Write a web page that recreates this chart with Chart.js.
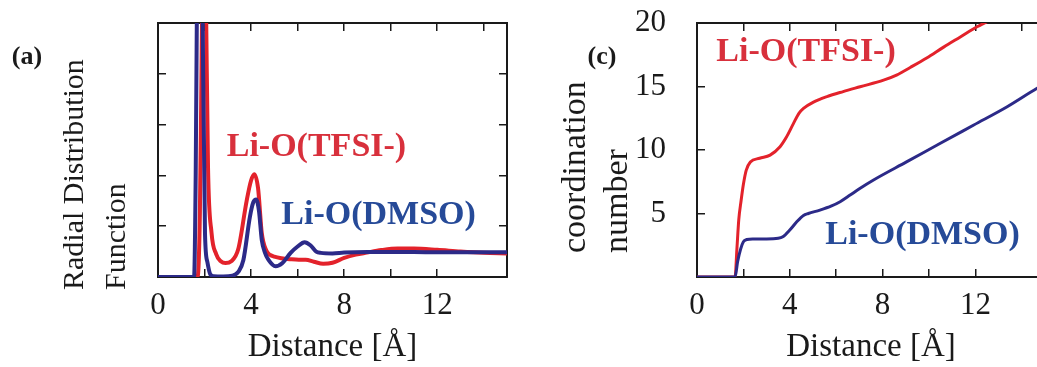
<!DOCTYPE html>
<html>
<head>
<meta charset="utf-8">
<script src="https://cdn.jsdelivr.net/npm/chart.js@4.4.0/dist/chart.umd.min.js"></script>
<style>
html, body { margin: 0; padding: 0; background: #fff; overflow: hidden; width: 1037px; height: 367px; }
#chartA { position: absolute; left: 0; top: 0; }
#chartC { position: absolute; left: 520px; top: 0; }
</style>
</head>
<body>
<canvas id="chartA" width="520" height="367"></canvas>
<canvas id="chartC" width="540" height="367"></canvas>
<script>
// ---- data ----
// (a) radial distribution function g(r)
var rdfDistTfsi = [0, 1.70, 1.80, 1.88, 1.97, 2.06, 2.15, 2.30, 2.50, 2.70, 2.90, 3.15, 3.45, 3.81, 4.00, 4.14, 4.30, 4.46, 4.65, 4.82, 5.00, 5.30, 5.70, 6.05, 6.35, 6.70, 7.10, 7.50, 8.00, 8.50, 8.97, 9.60, 10.30, 11.00, 12.00, 13.00, 14.00, 15.00];
var rdfTfsi     = [0, 0, 2.5, 9, 16, 11, 4.3, 1.75, 0.9, 0.62, 0.55, 0.62, 1.1, 3.0, 3.8, 4.05, 3.5, 1.73, 1.05, 0.87, 0.8, 0.74, 0.7, 0.68, 0.68, 0.6, 0.52, 0.56, 0.75, 0.88, 0.96, 1.06, 1.12, 1.12, 1.07, 1.0, 0.95, 0.93];

var rdfDistDmso = [0, 1.55, 1.62, 1.70, 1.80, 1.90, 2.02, 2.12, 2.24, 2.40, 2.80, 3.20, 3.45, 3.67, 3.95, 4.10, 4.22, 4.34, 4.46, 4.60, 4.75, 5.05, 5.35, 5.70, 6.00, 6.30, 6.55, 6.80, 7.00, 7.50, 8.00, 9.00, 10.00, 11.00, 12.00, 13.00, 14.00, 15.00];
var rdfDmso     = [0, 0, 4, 14, 20, 12, 1.7, 0.6, 0.12, 0.03, 0.02, 0.05, 0.2, 0.67, 2.37, 2.95, 3.05, 2.6, 1.46, 0.95, 0.67, 0.42, 0.55, 0.95, 1.2, 1.37, 1.25, 1.0, 0.95, 0.93, 0.96, 0.98, 0.98, 0.98, 0.97, 0.97, 0.97, 0.97];

// (c) coordination number
var cnDistTfsi = [0, 1.64, 1.72, 1.80, 1.90, 2.00, 2.12, 2.30, 2.70, 3.15, 3.58, 3.85, 4.16, 4.40, 4.59, 5.00, 5.60, 6.30, 7.03, 8.04, 8.60, 9.19, 9.90, 10.63, 11.35, 12.07, 12.50, 13.00, 15.00];
var cnTfsi     = [0, 0, 2.2, 4.5, 6.0, 7.3, 8.4, 9.05, 9.35, 9.6, 10.26, 11.0, 12.1, 12.9, 13.28, 13.75, 14.2, 14.6, 14.98, 15.5, 15.9, 16.5, 17.25, 18.1, 18.9, 19.7, 20.1, 20.6, 23];

var cnDistDmso = [0, 1.64, 1.75, 1.88, 2.00, 2.15, 2.40, 3.00, 3.50, 3.70, 4.00, 4.30, 4.59, 4.80, 5.30, 5.80, 6.17, 6.60, 7.00, 7.61, 9.05, 10.49, 11.93, 13.37, 14.66, 15.00];
var cnDmso     = [0, 0, 1.2, 2.2, 2.78, 2.95, 3.0, 3.0, 3.05, 3.17, 3.7, 4.35, 4.85, 5.0, 5.27, 5.6, 5.93, 6.45, 6.95, 7.64, 9.08, 10.53, 11.97, 13.41, 14.86, 15.2];

var seriesNames = ['Li-O(TFSI-)', 'Li-O(DMSO)'];
var xLabelTicks = [0, 4, 8, 12];

var SERIF = "'Liberation Serif', 'Times New Roman', serif";
var INK = '#1a1a1a';
var RED = '#e3222b', BLUE = '#2c2a88';
var RED_TXT = '#d8303c', BLUE_TXT = '#264a98';

function pts(xs, ys) {
  return xs.map(function(x, i) { return { x: x, y: ys[i] }; });
}

// draws panel labels, axis titles and curve labels
function textPlugin(items) {
  return {
    id: 'figText',
    afterDraw: function(chart) {
      var ctx = chart.ctx;
      items.forEach(function(t) {
        var px = t.px, py = t.py;
        if (t.at) {
          px = chart.scales.x.getPixelForValue(t.at[0]);
          py = chart.scales.y.getPixelForValue(t.at[1]);
        }
        ctx.save();
        ctx.translate(px, py);
        if (t.rotate) ctx.rotate(t.rotate * Math.PI / 180);
        ctx.font = t.font;
        ctx.fillStyle = t.color || INK;
        ctx.textAlign = t.align || 'center';
        ctx.textBaseline = t.baseline || 'middle';
        ctx.fillText(t.text, 0, 0);
        ctx.restore();
      });
    }
  };
}

function tickGrid() {
  return { drawOnChartArea: false, drawTicks: true, tickLength: -8, color: INK, lineWidth: 1.5 };
}
function frame() { return { display: true, color: INK, width: 2 }; }

// fixed box size, and no extra room asked for label overhang
function fixSize(w, h) {
  return function(s) {
    if (w !== null) s.width = w;
    if (h !== null) s.height = h;
    s.paddingTop = 0; s.paddingBottom = 0; s.paddingLeft = 0; s.paddingRight = 0;
  };
}

function makeScales(yMax, yStep, yLabels) {
  return {
    x: {
      type: 'linear', position: 'bottom', min: 0, max: 15,
      afterFit: fixSize(null, 90),
      ticks: {
        stepSize: 2, autoSkip: false, maxRotation: 0, padding: 18,
        font: { family: SERIF, size: 31 }, color: INK,
        callback: function(v) { return xLabelTicks.indexOf(v) >= 0 ? String(v) : ''; }
      },
      grid: tickGrid(), border: frame(),
      title: { display: true, text: 'Distance [Å]', color: INK, font: { family: SERIF, size: 33 }, padding: { top: 0, bottom: 0 } }
    },
    x2: {
      type: 'linear', position: 'top', min: 0, max: 15,
      afterFit: fixSize(null, 10),
      ticks: { stepSize: 2, display: false },
      grid: tickGrid(), border: frame()
    },
    y: {
      type: 'linear', position: 'left', min: 0, max: yMax,
      afterFit: fixSize(70, null),
      ticks: {
        stepSize: yStep, display: yLabels, padding: 39, autoSkip: false,
        font: { family: SERIF, size: 31 }, color: INK,
        callback: function(v) { return v === 0 ? '' : String(v); }
      },
      grid: tickGrid(), border: frame()
    },
    y2: {
      type: 'linear', position: 'right', min: 0, max: yMax,
      afterFit: fixSize(10, null),
      ticks: { stepSize: yStep, display: false },
      grid: tickGrid(), border: frame()
    }
  };
}

function lineSet(label, data, color, width, order) {
  return {
    label: label, data: data, borderColor: color, backgroundColor: color,
    borderWidth: width, pointRadius: 0, cubicInterpolationMode: 'monotone', order: order
  };
}

var commonOpts = {
  responsive: false, animation: false, devicePixelRatio: 1,
  plugins: { legend: { display: false }, tooltip: { enabled: false } }
};

// (a)
new Chart(document.getElementById('chartA'), {
  type: 'line',
  data: {
    datasets: [
      lineSet(seriesNames[0], pts(rdfDistTfsi, rdfTfsi), RED, 4, 1),
      lineSet(seriesNames[1], pts(rdfDistDmso, rdfDmso), BLUE, 4, 0)
    ]
  },
  options: Object.assign({}, commonOpts, {
    layout: { padding: { left: 88, right: 3, top: 13, bottom: 0 } },
    scales: makeScales(10, 2, false)
  }),
  plugins: [textPlugin([
    { text: '(a)', px: 27, py: 57, font: 'bold 26px ' + SERIF },
    { text: 'Radial Distribution', px: 83, py: 290, rotate: -90, align: 'left', baseline: 'alphabetic', font: '30px ' + SERIF },
    { text: 'Function', px: 125, py: 290, rotate: -90, align: 'left', baseline: 'alphabetic', font: '30px ' + SERIF },
    { text: seriesNames[0], at: [6.81, 5.12], font: 'bold 34px ' + SERIF, color: RED_TXT },
    { text: seriesNames[1], at: [9.48, 2.44], font: 'bold 34px ' + SERIF, color: BLUE_TXT }
  ])]
});

// (c)
new Chart(document.getElementById('chartC'), {
  type: 'line',
  data: {
    datasets: [
      lineSet(seriesNames[0], pts(cnDistTfsi, cnTfsi), RED, 3, 1),
      lineSet(seriesNames[1], pts(cnDistDmso, cnDmso), BLUE, 3, 0)
    ]
  },
  options: Object.assign({}, commonOpts, {
    layout: { padding: { left: 107, right: 5, top: 13, bottom: 0 } },
    scales: makeScales(20, 5, true)
  }),
  plugins: [textPlugin([
    { text: '(c)', px: 82, py: 57, font: 'bold 26px ' + SERIF },
    { text: 'coordination', px: 65, py: 253, rotate: -90, align: 'left', baseline: 'alphabetic', font: '34px ' + SERIF },
    { text: 'number', px: 107, py: 253, rotate: -90, align: 'left', baseline: 'alphabetic', font: '34px ' + SERIF },
    { text: seriesNames[0], at: [4.70, 17.7], font: 'bold 34px ' + SERIF, color: RED_TXT },
    { text: seriesNames[1], at: [9.72, 3.3], font: 'bold 34px ' + SERIF, color: BLUE_TXT }
  ])]
});
</script>
</body>
</html>
